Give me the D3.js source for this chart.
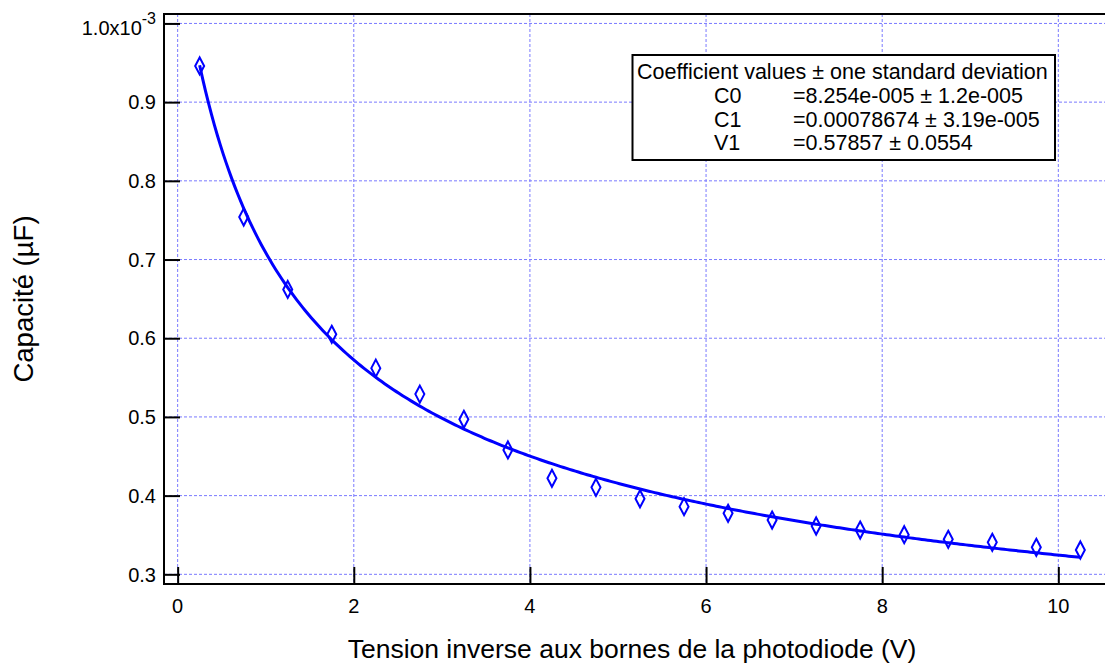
<!DOCTYPE html>
<html>
<head>
<meta charset="utf-8">
<script src="https://cdn.jsdelivr.net/npm/d3@7/dist/d3.min.js"></script>
<style>
  html, body { margin: 0; padding: 0; background: #fff; }
  svg { display: block; font-family: "Liberation Sans", Arial, sans-serif; }
</style>
</head>
<body>
<svg id="chart" width="1105" height="665"></svg>
<script>
// Reverse bias voltage across the photodiode (V)
const voltages = [0.25, 0.75, 1.25, 1.75, 2.25, 2.75, 3.25, 3.75, 4.25, 4.75,
                  5.25, 5.75, 6.25, 6.75, 7.25, 7.75, 8.25, 8.75, 9.25, 9.75, 10.25];
// Measured capacitance, in units of 1e-3 µF
const capacitance = [0.946, 0.754, 0.662, 0.605, 0.562, 0.529, 0.497, 0.458, 0.422, 0.4105,
                     0.396, 0.386, 0.3775, 0.369, 0.3614, 0.3563, 0.3503, 0.3445, 0.3407, 0.3343, 0.3309];
const capUnit = 1e-3;

// Fit C(V) = C0 + C1 / sqrt(V + V1), coefficients with one standard deviation
const coefNames  = ["C0", "C1", "V1"];
const coefValues = [8.254e-5, 0.00078674, 0.57857];
const coefSigmas = [1.2e-5, 3.19e-5, 0.0554];

const xTicks = [0, 2, 4, 6, 8, 10];
const yTicks = [0.3, 0.4, 0.5, 0.6, 0.7, 0.8, 0.9, 1.0];

const xTitle = "Tension inverse aux bornes de la photodiode (V)";
const yTitle = "Capacité (µF)";
const legendTitle = "Coefficient values ± one standard deviation";

const svg = d3.select("#chart");
const plotL = 164, plotT = 14, plotB = 584, plotR = 1105;

const x = d3.scaleLinear().domain([-0.155, 10.53]).range([plotL, plotR]);
const y = d3.scaleLinear().domain([0.2877, 1.012]).range([plotB, plotT]);

const gridColor = "#7a7aff";

// grid lines
const grid = svg.append("g");
grid.selectAll("line.gx").data(xTicks).join("line")
  .attr("x1", d => x(d)).attr("x2", d => x(d))
  .attr("y1", plotT).attr("y2", plotB)
  .attr("stroke", gridColor).attr("stroke-width", 1).attr("stroke-dasharray", "3,2");
grid.selectAll("line.gy").data(yTicks).join("line")
  .attr("x1", plotL).attr("x2", plotR)
  .attr("y1", d => y(d)).attr("y2", d => y(d))
  .attr("stroke", gridColor).attr("stroke-width", 1).attr("stroke-dasharray", "3,2");

// axes with inward ticks
const xAxis = d3.axisTop(x).tickValues(xTicks).tickSize(17).tickFormat("");
const yAxis = d3.axisRight(y).tickValues(yTicks).tickSize(16).tickFormat("");

const gx = svg.append("g").attr("transform", `translate(0,${plotB})`).call(xAxis);
gx.select(".domain").remove();
gx.selectAll(".tick line").attr("stroke", "#000").attr("stroke-width", 2);

const gy = svg.append("g").attr("transform", `translate(${plotL},0)`).call(yAxis);
gy.select(".domain").remove();
gy.selectAll(".tick line").attr("stroke", "#000").attr("stroke-width", 2);

// frame lines
const frame = svg.append("g").attr("stroke", "#000").attr("stroke-width", 2);
frame.append("line").attr("x1", plotL).attr("x2", plotR).attr("y1", plotT).attr("y2", plotT);
frame.append("line").attr("x1", plotL).attr("x2", plotR).attr("y1", plotB).attr("y2", plotB);
frame.append("line").attr("x1", plotL).attr("x2", plotL).attr("y1", plotT - 1).attr("y2", plotB + 1);

// tick labels
svg.append("g").selectAll("text").data(xTicks).join("text")
  .attr("x", d => x(d)).attr("y", plotB + 29)
  .attr("text-anchor", "middle").attr("font-size", 20).attr("fill", "#000")
  .text(d => d);

const yl = svg.append("g").selectAll("text").data(yTicks).join("text")
  .attr("x", plotL - 8).attr("y", d => y(d) + (d === 1.0 ? 11.5 : 7.2))
  .attr("text-anchor", "end").attr("font-size", 20).attr("fill", "#000");
yl.each(function(d) {
  const t = d3.select(this);
  if (d === 1.0) {
    t.append("tspan").text("1.0x10");
    t.append("tspan").attr("font-size", 16).attr("dy", -11).text("-3");
  } else {
    t.text(d.toFixed(1));
  }
});

// axis titles
svg.append("text")
  .attr("x", 632).attr("y", 658)
  .attr("text-anchor", "middle").attr("font-size", 26.5).attr("fill", "#000")
  .text(xTitle);
svg.append("text")
  .attr("transform", "translate(33,299) rotate(-90)")
  .attr("text-anchor", "middle").attr("font-size", 27.5).attr("fill", "#000")
  .text(yTitle);

// fitted curve
const fit = v => (coefValues[0] + coefValues[1] / Math.sqrt(v + coefValues[2])) / capUnit;
const vMin = d3.min(voltages), vMax = d3.max(voltages);
const fitPts = d3.range(0, 301).map(i => vMin + (vMax - vMin) * i / 300);
svg.append("path")
  .attr("d", d3.line().x(v => x(v)).y(v => y(fit(v)))(fitPts))
  .attr("fill", "none").attr("stroke", "#0000ff").attr("stroke-width", 3);

// measured points as open diamonds
const hw = 4.5, hh = 8.5;
svg.append("g").selectAll("path").data(voltages).join("path")
  .attr("transform", (v, i) => `translate(${x(v)},${y(capacitance[i])})`)
  .attr("d", `M0,${-hh}L${hw},0L0,${hh}L${-hw},0Z`)
  .attr("fill", "none").attr("stroke", "#0000ff").attr("stroke-width", 2);

// coefficient box
const fmt = v => {
  if (Math.abs(v) < 1e-4) {
    const [m, e] = v.toExponential().split("e");
    const neg = e[0] === "-";
    const digits = e.replace(/^[+-]/, "").padStart(3, "0");
    return `${m}e${neg ? "-" : ""}${digits}`;
  }
  return String(v);
};
const box = svg.append("g");
box.append("rect")
  .attr("x", 632.5).attr("y", 55).attr("width", 422.5).attr("height", 105)
  .attr("fill", "#fff").attr("stroke", "#000").attr("stroke-width", 2);
box.append("text")
  .attr("x", 637).attr("y", 78.5).attr("font-size", 21.5).attr("fill", "#000")
  .text(legendTitle);
coefNames.forEach((n, i) => {
  const by = 103 + i * 23.5;
  box.append("text").attr("x", 714).attr("y", by).attr("font-size", 21.5).attr("fill", "#000").text(n);
  box.append("text").attr("x", 793).attr("y", by).attr("font-size", 21.5).attr("fill", "#000")
    .text(`=${fmt(coefValues[i])} ± ${fmt(coefSigmas[i])}`);
});
</script>
</body>
</html>
